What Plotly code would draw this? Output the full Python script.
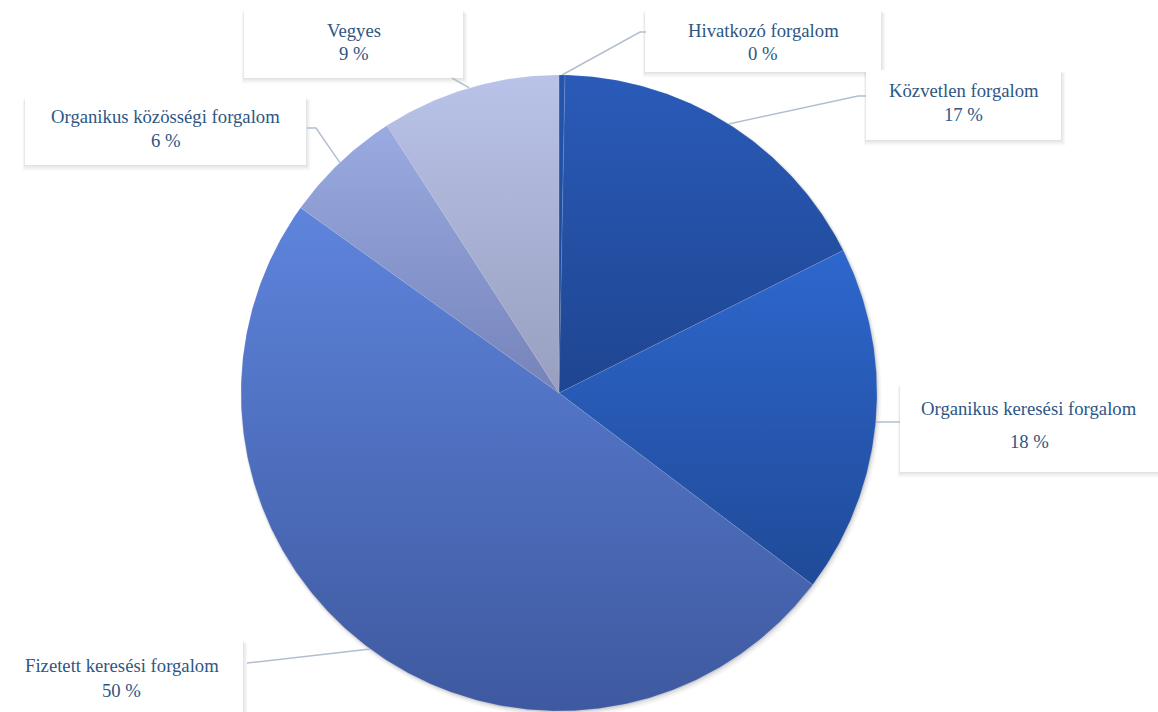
import numpy as np
import plotly.graph_objects as go

# Traffic sources and their share of visits (%)
sources = [
    "Hivatkozó forgalom",
    "Közvetlen forgalom",
    "Organikus keresési forgalom",
    "Fizetett keresési forgalom",
    "Organikus közösségi forgalom",
    "Vegyes",
]
shares = [0.3, 17.3, 17.7, 49.6, 6.0, 9.1]

# Gradient colours per slice (top, bottom)
top_colors = ["#2456ae", "#2a5bb9", "#2e67cd", "#5e84dc", "#9aabe2", "#b9c2e8"]
bottom_colors = ["#1c438c", "#1e4590", "#1f4a98", "#3e599f", "#7583b9", "#989fbf"]

# Label box layout in pixels: (left, top, right, bottom, name_y, value_y)
boxes = [
    (645, 10, 881, 72, 30, 53),
    (866, 70, 1061, 140, 90, 114),
    (900, 384, 1158, 472, 408, 441),
    (0, 640, 243, 712, 665, 690),
    (25, 97, 306, 165, 116, 140),
    (244, 10, 463, 78, 30, 53),
]
# Leader-line elbow points in pixels, ordered from the pie outward
elbows = [
    [(640, 32), (646, 32)],
    [(858, 96), (866, 96)],
    [(889, 422), (900, 422)],
    [(257, 662), (247, 663)],
    [(316, 128), (307, 128)],
    [(452, 78)],
]

W, H = 1158, 712
CX, CY, R = 559, 393, 318  # pie centre and radius in pixels
FONT = "'Liberation Serif', 'Times New Roman', Times, serif"


def px(x, y):
    """Pixel position -> data coordinates (unit pie radius)."""
    return (x - CX) / R, (CY - y) / R


fig = go.Figure()

total = sum(shares)
fracs = [s / total for s in shares]
starts = np.cumsum([0] + fracs[:-1])

for i, (name, f, s0) in enumerate(zip(sources, fracs, starts)):
    a = np.linspace(s0, s0 + f, max(8, int(f * 720))) * 2 * np.pi
    xs = np.concatenate([[0], np.sin(a), [0]])
    ys = np.concatenate([[0], np.cos(a), [0]])
    fig.add_trace(go.Scatter(
        x=xs, y=ys, mode="lines", fill="toself", name=name,
        line=dict(color="rgba(255,255,255,0.2)", width=0.6),
        fillgradient=dict(type="vertical",
                          colorscale=[[0, bottom_colors[i]], [1, top_colors[i]]]),
        hoverinfo="name", showlegend=False,
    ))

shapes = []
# soft drop shadow under the pie
for off, grow, alpha in [(3, 2.5, 0.04), (2, 1.2, 0.06), (1, 0.3, 0.10)]:
    r = (R + grow) / R
    ox, oy = off * 0.6 / R, -off / R
    shapes.append(dict(type="circle", xref="x", yref="y", layer="below",
                       x0=-r + ox, x1=r + ox, y0=-r + oy, y1=r + oy,
                       line=dict(width=0), fillcolor=f"rgba(0,0,0,{alpha})"))

annotations = []
for i, (name, f, s0) in enumerate(zip(sources, fracs, starts)):
    left, top, right, bottom, ny, vy = boxes[i]
    # soft box shadow then white box
    for d, alpha in [(6, 0.012), (5, 0.015), (4, 0.018), (3, 0.02), (2, 0.022), (1, 0.025)]:
        x0, y0 = px(left - d * 0.4, top + d * 0.6)
        x1, y1 = px(right + d * 0.8, bottom + d)
        shapes.append(dict(type="rect", xref="x", yref="y", layer="below",
                           x0=x0, x1=x1, y0=y0, y1=y1, line=dict(width=0),
                           fillcolor=f"rgba(0,0,0,{alpha})"))
    x0, y0 = px(left, top)
    x1, y1 = px(right, bottom)
    shapes.append(dict(type="rect", xref="x", yref="y", layer="below",
                       x0=x0, x1=x1, y0=y0, y1=y1, line=dict(width=0),
                       fillcolor="white"))

    # leader line from the slice's mid-angle on the rim
    mid = (s0 + f / 2) * 2 * np.pi
    pts = [(np.sin(mid), np.cos(mid))] + [px(*p) for p in elbows[i]]
    path = "M " + " L ".join(f"{x:.5f},{y:.5f}" for x, y in pts)
    shapes.append(dict(type="path", xref="x", yref="y", layer="below", path=path,
                       line=dict(color="#b3bfcf", width=1.5)))

    cx = (left + right) / 2
    pct = round(f * 100)
    for text, ty in [(name, ny), (f"{pct} %", vy)]:
        ax, ay = px(cx, ty)
        annotations.append(dict(x=ax, y=ay, xref="x", yref="y", text=text,
                                showarrow=False, xanchor="center", yanchor="middle",
                                font=dict(family=FONT, size=18.7, color="#2e5684")))

xr = [px(0, 0)[0], px(W, 0)[0]]
yr = [px(0, H)[1], px(0, 0)[1]]
fig.update_layout(
    width=W, height=H,
    margin=dict(l=0, r=0, t=0, b=0),
    paper_bgcolor="white", plot_bgcolor="white",
    font=dict(family=FONT),
    xaxis=dict(range=xr, visible=False, fixedrange=True),
    yaxis=dict(range=yr, visible=False, fixedrange=True),
    shapes=shapes, annotations=annotations,
)

fig.write_html("out.html")
